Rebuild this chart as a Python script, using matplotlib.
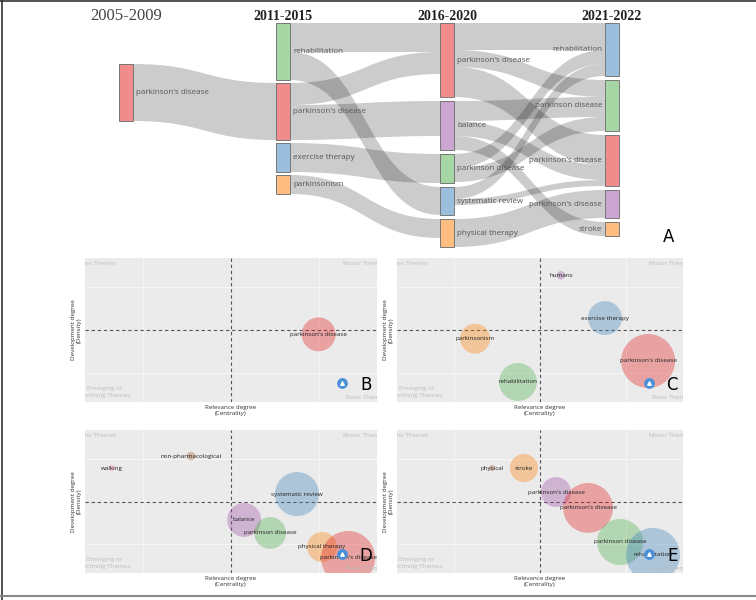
import numpy as np
import matplotlib
matplotlib.use('Agg')
import matplotlib.pyplot as plt
from matplotlib.path import Path
from matplotlib.patches import PathPatch, Rectangle
from matplotlib.lines import Line2D

W, H = 756, 600

# ---------------- sankey (thematic evolution) data ----------------
periods = ['2005-2009', '2011-2015', '2016-2020', '2021-2022']
col1 = ["parkinson's disease"]
col2 = ['rehabilitation', "parkinson's disease", 'exercise therapy', 'parkinsonism']
col3 = ["parkinson's disease", 'balance', 'parkinson disease', 'systematic review', 'physical therapy']
col4 = ['rehabilitation', 'parkinson disease', "parkinson's disease", "parkinson's disease", 'stroke']
col1_colors = ['red']
col2_colors = ['green', 'red', 'blue', 'orange']
col3_colors = ['red', 'purple', 'green', 'blue', 'orange']
col4_colors = ['blue', 'green', 'red', 'purple', 'orange']

# links between consecutive periods: (source index, target index, weight)
links_12 = [(0, 1, 57)]
links_23 = [(0, 0, 29), (0, 3, 28), (1, 0, 22), (1, 1, 35), (2, 2, 29), (3, 4, 19)]
links_34 = [(0, 0, 27), (0, 1, 17), (0, 2, 30), (1, 1, 20), (1, 2, 15), (1, 4, 14),
            (2, 0, 14), (2, 1, 14), (3, 0, 12), (3, 2, 6), (4, 3, 28)]

# ---------------- thematic maps (centrality / density, rank scaled 0-1) ----------------
b_labels = ["parkinson's disease"]
b_centrality = [0.80]
b_density = [0.47]
b_freq = [32]
b_colors = ['red']

c_labels = ['humans', 'exercise therapy', 'parkinsonism', 'rehabilitation', "parkinson's disease"]
c_centrality = [0.573, 0.727, 0.273, 0.423, 0.878]
c_density = [0.88, 0.583, 0.44, 0.139, 0.285]
c_freq = [2, 32, 25, 40, 81]
c_colors = ['purple', 'blue', 'orange', 'green', 'red']

d_labels = ['walking', 'non-pharmacological', 'systematic review', 'balance',
            'parkinson disease', 'physical therapy', "parkinson's disease"]
d_centrality = [0.092, 0.363, 0.726, 0.545, 0.634, 0.812, 0.901]
d_density = [0.734, 0.818, 0.552, 0.371, 0.28, 0.182, 0.105]
d_freq = [1, 2, 54, 32, 28, 25, 81]
d_colors = ['pink', 'brown', 'blue', 'purple', 'green', 'orange', 'red']

e_labels = ['physical', 'stroke', "parkinson's disease", "parkinson's disease",
            'parkinson disease', 'rehabilitation']
e_centrality = [0.332, 0.444, 0.556, 0.668, 0.78, 0.895]
e_density = [0.734, 0.734, 0.566, 0.455, 0.217, 0.126]
e_freq = [1, 22, 25, 69, 59, 81]
e_colors = ['brown', 'orange', 'purple', 'red', 'green', 'blue']

palette = {'red': '#E41A1C', 'blue': '#377EB8', 'green': '#4DAF4A', 'purple': '#984EA3',
           'orange': '#FF7F00', 'brown': '#A65628', 'pink': '#F781BF'}

fig = plt.figure(figsize=(W / 100, H / 100), dpi=100)

# ---------------- sankey ----------------
ax = fig.add_axes([0, 1 - 250 / H, 1, 250 / H])
ax.set_xlim(0, W)
ax.set_ylim(250, 0)
ax.axis('off')

cols = [col1, col2, col3, col4]
col_colors = [col1_colors, col2_colors, col3_colors, col4_colors]
col_links = [links_12, links_23, links_34]
col_left = [119, 276, 440, 605]
col_top = [64, 23, 23, 23]
col_gap = [0, 3, 4, 4]
node_w = 14

# node sizes = max(inflow, outflow)
node_val = []
for c, names in enumerate(cols):
    vals = []
    for i in range(len(names)):
        vin = sum(w for s, t, w in col_links[c - 1] if t == i) if c > 0 else 0
        vout = sum(w for s, t, w in col_links[c] if s == i) if c < 3 else 0
        vals.append(max(vin, vout))
    node_val.append(vals)

node_y = []
for c, vals in enumerate(node_val):
    ys = []
    y = col_top[c]
    for v in vals:
        ys.append(y)
        y += v + col_gap[c]
    node_y.append(ys)

# links
for c, links in enumerate(col_links):
    out_off = [0] * len(cols[c])
    in_off = [0] * len(cols[c + 1])
    src_y = {}
    for s, t, w in sorted(links, key=lambda l: (l[0], l[1])):
        src_y[(s, t)] = node_y[c][s] + out_off[s]
        out_off[s] += w
    tgt_y = {}
    for s, t, w in sorted(links, key=lambda l: (l[1], l[0])):
        tgt_y[(s, t)] = node_y[c + 1][t] + in_off[t]
        in_off[t] += w
    x0 = col_left[c] + node_w
    x1 = col_left[c + 1]
    xm = (x0 + x1) / 2
    for s, t, w in links:
        y0 = src_y[(s, t)]
        y1 = tgt_y[(s, t)]
        verts = [(x0, y0), (xm, y0), (xm, y1), (x1, y1),
                 (x1, y1 + w), (xm, y1 + w), (xm, y0 + w), (x0, y0 + w), (x0, y0)]
        codes = [Path.MOVETO, Path.CURVE4, Path.CURVE4, Path.CURVE4, Path.LINETO,
                 Path.CURVE4, Path.CURVE4, Path.CURVE4, Path.CLOSEPOLY]
        ax.add_patch(PathPatch(Path(verts, codes), facecolor=(0, 0, 0, 0.2),
                               edgecolor='none', zorder=1))

# nodes + labels
for c, names in enumerate(cols):
    for i, name in enumerate(names):
        y = node_y[c][i]
        v = node_val[c][i]
        ax.add_patch(Rectangle((col_left[c], y), node_w, v,
                               facecolor=palette[col_colors[c][i]], alpha=0.5,
                               edgecolor='none', zorder=2))
        ax.add_patch(Rectangle((col_left[c], y), node_w, v, facecolor='none',
                               edgecolor='#777777', lw=0.7, zorder=3))
        if c < 3:
            ax.text(col_left[c] + node_w + 3, y + v / 2, name, ha='left', va='center',
                    fontsize=5.8, family='Open Sans', color='#555555', zorder=4)
        else:
            ax.text(col_left[c] - 3, y + v / 2, name, ha='right', va='center',
                    fontsize=5.8, family='Open Sans', color='#555555', zorder=4)

for c, p in enumerate(periods):
    ax.text(col_left[c] + node_w / 2, 16, p, ha='center', va='center',
            fontsize=12 if c == 0 else 10, family='Liberation Serif',
            fontweight='normal' if c == 0 else 'bold',
            color='#444444' if c == 0 else '#222222')

ax.text(669, 237, 'A', ha='center', va='center', fontsize=12, color='black')


# ---------------- thematic maps ----------------
def thematic_map(rect, labels, cen, den, freq, colors, letter):
    a = fig.add_axes([rect[0] / W, 1 - (rect[1] + rect[3]) / H, rect[2] / W, rect[3] / H])
    a.set_facecolor('#EBEBEB')
    a.set_xlim(0, 1)
    a.set_ylim(0, 1)
    a.set_xticks([0.2, 0.8])
    a.set_yticks([0.2, 0.8])
    a.grid(True, color='#F6F6F6', lw=0.7)
    a.set_axisbelow(True)
    a.tick_params(length=0, labelbottom=False, labelleft=False)
    for sp in a.spines.values():
        sp.set_visible(False)
    a.axvline(0.5, color='#555555', lw=0.8, dashes=(3, 2.5), zorder=1)
    a.axhline(0.5, color='#555555', lw=0.8, dashes=(3, 2.5), zorder=1)
    sizes = [(2 * 3.0 * np.sqrt(f) * 0.72) ** 2 for f in freq]
    a.scatter(cen, den, s=sizes, c=[palette[k] for k in colors], alpha=0.35,
              edgecolors='none', zorder=2, clip_on=True)
    for lab, x, y in zip(labels, cen, den):
        a.text(x, y, lab, ha='center', va='center', fontsize=4.5, color='#222222',
               family='Open Sans', zorder=4)
    kw = dict(fontsize=4.5, color='#BDBDBD', family='Open Sans', clip_on=True, zorder=3)
    a.text(-0.035, 0.965, 'Niche Themes', ha='left', va='center', transform=a.transAxes, **kw)
    a.text(1.03, 0.965, 'Motor Themes', ha='right', va='center', transform=a.transAxes, **kw)
    a.text(-0.02, 0.07, 'Emerging or\nDeclining Themes', ha='left', va='center',
           multialignment='center', transform=a.transAxes, linespacing=1.3, **kw)
    a.text(1.03, 0.03, 'Basic Themes', ha='right', va='center', transform=a.transAxes, **kw)
    # small blue logo mark
    a.scatter([0.88], [0.13], s=45, marker='o', color='#4A90D9', zorder=5)
    a.scatter([0.88], [0.13], s=6, marker='^', color='white', zorder=6)
    a.text(0.962, 0.12, letter, ha='center', va='center', fontsize=12, color='black',
           transform=a.transAxes, zorder=7)
    a.set_xlabel('Relevance degree\n(Centrality)', fontsize=4.5, color='#333333',
                 family='Open Sans', labelpad=2, linespacing=1.3)
    a.set_ylabel('Development degree\n(Density)', fontsize=4.5, color='#333333',
                 family='Open Sans', labelpad=2, linespacing=1.3)
    return a


thematic_map((85, 258, 292, 144), b_labels, b_centrality, b_density, b_freq, b_colors, 'B')
thematic_map((397, 258, 286, 144), c_labels, c_centrality, c_density, c_freq, c_colors, 'C')
thematic_map((85, 430, 292, 143), d_labels, d_centrality, d_density, d_freq, d_colors, 'D')
thematic_map((397, 430, 286, 143), e_labels, e_centrality, e_density, e_freq, e_colors, 'E')

# figure frame
fig.add_artist(Line2D([1.5 / W, 1.5 / W], [0, 1], transform=fig.transFigure, color='#333333', lw=1.2))
fig.add_artist(Line2D([0, 1], [1 - 0.5 / H, 1 - 0.5 / H], transform=fig.transFigure, color='#333333', lw=1.2))
fig.add_artist(Line2D([0, 1], [1 - 596 / H, 1 - 596 / H], transform=fig.transFigure, color='#888888', lw=1.5))

fig.savefig('out.png', dpi=100)
